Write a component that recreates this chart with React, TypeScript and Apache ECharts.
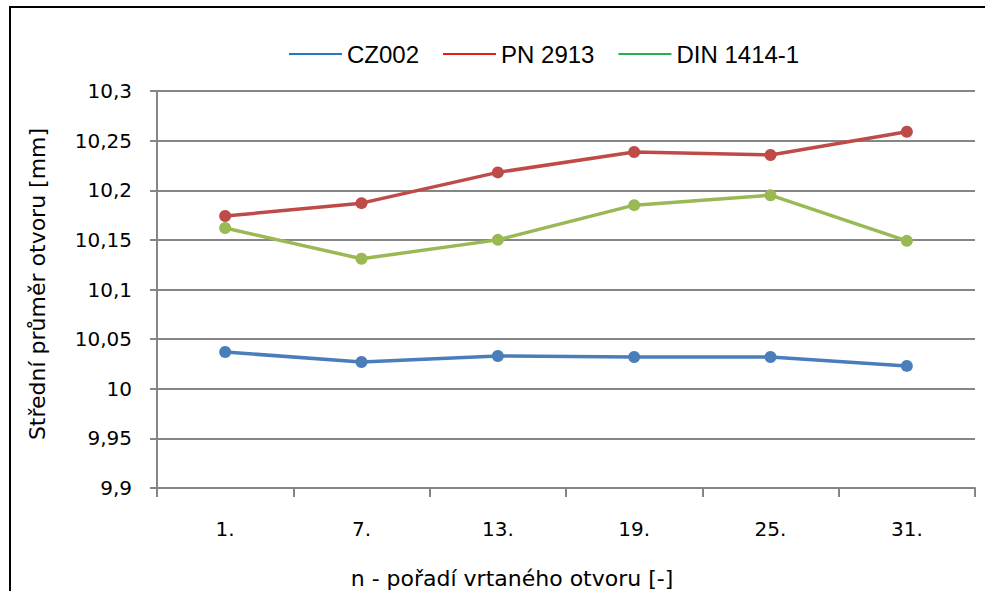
import React, { useEffect, useRef } from "react";
import * as echarts from "echarts";

const categories = ["1.", "7.", "13.", "19.", "25.", "31."];
const cz002 = [10.037, 10.027, 10.033, 10.032, 10.032, 10.023];
const pn2913 = [10.174, 10.187, 10.218, 10.2385, 10.2355, 10.259];
const din1414 = [10.162, 10.131, 10.15, 10.185, 10.195, 10.149];
const seriesNames = ["CZ002", "PN 2913", "DIN 1414-1"];
const yMin = 9.9;
const yMax = 10.3;
const yStep = 0.05;

const lineColors = ["#4A7EBB", "#BE4B48", "#98B954"];
const legendColors = ["#1F78C8", "#E8191C", "#22B14C"];

export default function App() {
  const ref = useRef<HTMLDivElement>(null);
  useEffect(() => {
    if (!ref.current) return;
    const chart = echarts.init(ref.current, null, { renderer: "svg" });
    const datas = [cz002, pn2913, din1414];
    chart.setOption({
      animation: false,
      backgroundColor: "#ffffff",
      grid: { left: 157, right: 10, top: 91, bottom: 103, containLabel: false },
      legend: {
        left: 284,
        top: 37,
        itemWidth: 53,
        itemHeight: 2,
        itemGap: 24,
        icon: "rect",
        textStyle: { fontFamily: "Liberation Sans", fontSize: 24, color: "#000" },
        data: seriesNames.map((n, i) => ({
          name: n,
          itemStyle: { color: legendColors[i] },
        })),
      },
      xAxis: {
        type: "category",
        data: categories,
        boundaryGap: true,
        axisLine: { show: true, lineStyle: { color: "#868686", width: 2 } },
        axisTick: { show: true, length: 9, lineStyle: { color: "#868686", width: 2 } },
        axisLabel: { fontFamily: "DejaVu Sans", fontSize: 20, color: "#000", margin: 31 },
      },
      yAxis: {
        type: "value",
        min: yMin,
        max: yMax,
        interval: yStep,
        axisLine: { show: true, lineStyle: { color: "#868686", width: 2 } },
        axisTick: { show: true, length: 7, lineStyle: { color: "#868686", width: 2 } },
        splitLine: { show: true, lineStyle: { color: "#868686", width: 2 } },
        axisLabel: {
          fontFamily: "DejaVu Sans",
          fontSize: 20,
          color: "#000",
          margin: 25,
          formatter: (v: number) => {
            const s = String(Math.round(v * 1000) / 1000);
            return s.replace(".", ",");
          },
        },
      },
      series: seriesNames.map((n, i) => ({
        name: n,
        type: "line",
        data: datas[i],
        symbol: "circle",
        symbolSize: 12,
        showSymbol: true,
        lineStyle: { color: lineColors[i], width: 3.5 },
        itemStyle: { color: lineColors[i] },
      })),
      graphic: [
        {
          type: "rect",
          shape: { x: 10, y: 7, width: 1000, height: 700 },
          style: { fill: "none", stroke: "#000", lineWidth: 2 },
          silent: true,
        },
        {
          type: "text",
          x: 37,
          y: 284,
          rotation: Math.PI / 2,
          style: {
            text: "Střední průměr otvoru [mm]",
            fontFamily: "DejaVu Sans",
            fontSize: 22,
            fill: "#000",
            align: "center",
            verticalAlign: "middle",
          },
        },
        {
          type: "text",
          x: 512,
          y: 578,
          style: {
            text: "n - pořadí vrtaného otvoru [-]",
            fontFamily: "DejaVu Sans",
            fontSize: 22,
            fill: "#000",
            align: "center",
            verticalAlign: "middle",
          },
        },
      ],
    });
    return () => chart.dispose();
  }, []);
  return (
    <div
      ref={ref}
      style={{ position: "fixed", left: 0, top: 0, width: 985, height: 591 }}
    />
  );
}
